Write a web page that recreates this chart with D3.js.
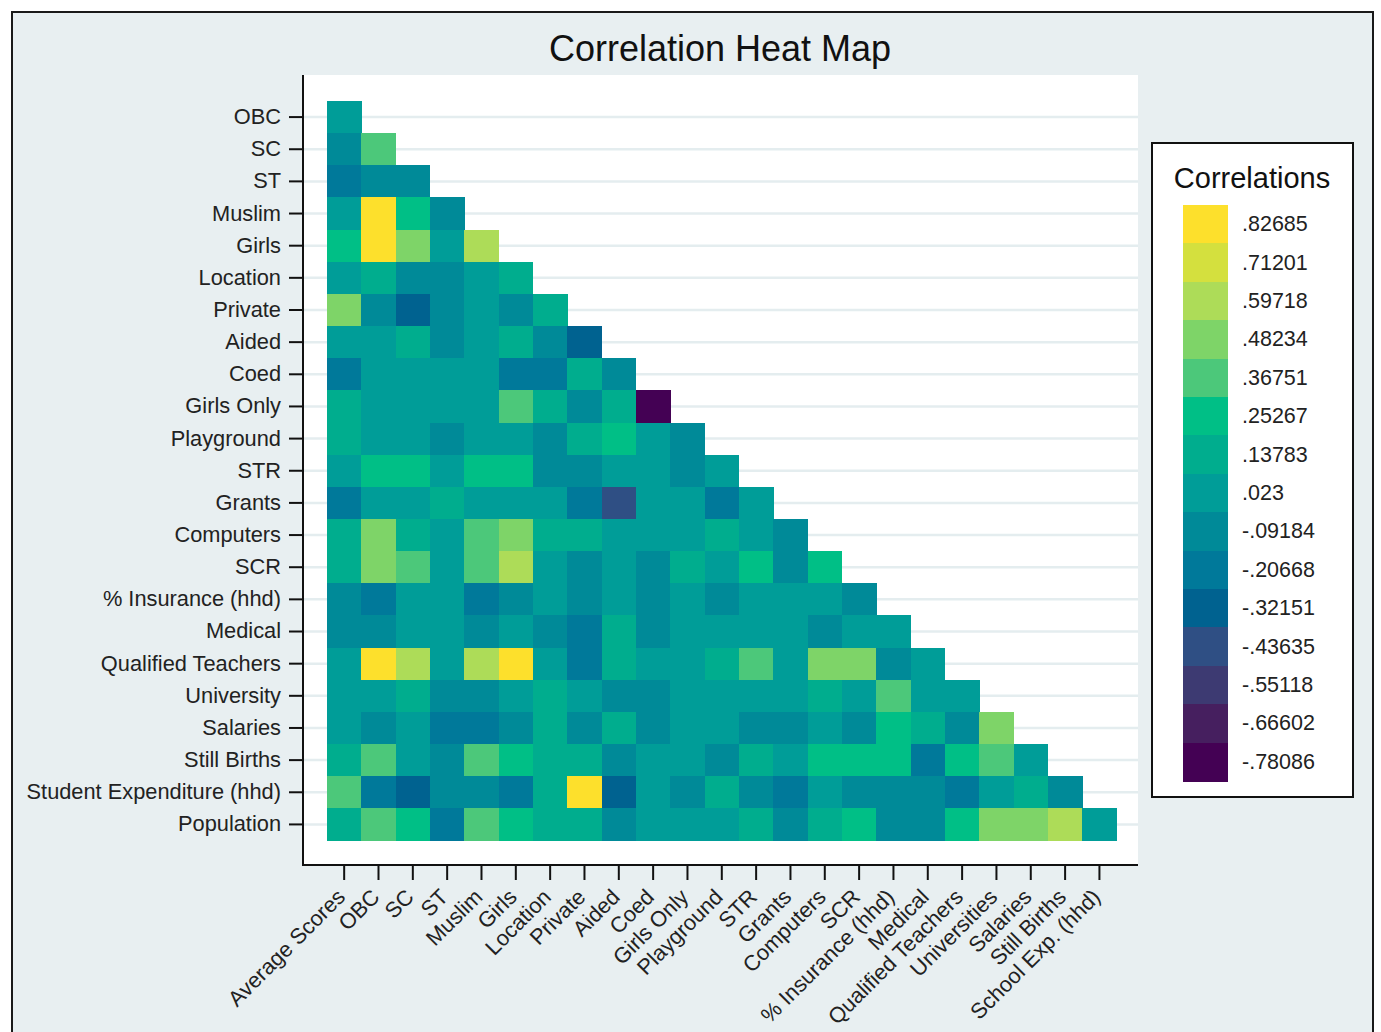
<!DOCTYPE html>
<html>
<head>
<meta charset="utf-8">
<script src="https://cdn.jsdelivr.net/npm/d3@7"></script>
<style>
  body { margin: 0; background: #ffffff; }
  text { font-family: "Liberation Sans", Arial, Helvetica, sans-serif; }
</style>
</head>
<body>
<svg id="chart" width="1381" height="1032"></svg>
<script>
// Column (x) variables
const colVars = ["Average Scores", "OBC", "SC", "ST", "Muslim", "Girls", "Location", "Private",
  "Aided", "Coed", "Girls Only", "Playground", "STR", "Grants", "Computers", "SCR",
  "% Insurance (hhd)", "Medical", "Qualified Teachers", "Universities", "Salaries",
  "Still Births", "School Exp. (hhd)"];

// Row (y) variables
const rowVars = ["OBC", "SC", "ST", "Muslim", "Girls", "Location", "Private", "Aided", "Coed",
  "Girls Only", "Playground", "STR", "Grants", "Computers", "SCR", "% Insurance (hhd)",
  "Medical", "Qualified Teachers", "University", "Salaries", "Still Births",
  "Student Expenditure (hhd)", "Population"];

// Lower-triangle correlations, one array per row (row i has i+1 entries)
const corrOBC        = [0.02];
const corrSC         = [-0.09, 0.37];
const corrST         = [-0.21, -0.09, -0.09];
const corrMuslim     = [0.02, 0.83, 0.25, -0.09];
const corrGirls      = [0.25, 0.83, 0.48, 0.02, 0.60];
const corrLocation   = [0.02, 0.14, -0.09, -0.09, 0.02, 0.14];
const corrPrivate    = [0.48, -0.09, -0.32, -0.09, 0.02, -0.09, 0.14];
const corrAided      = [0.02, 0.02, 0.14, -0.09, 0.02, 0.14, -0.09, -0.32];
const corrCoed       = [-0.21, 0.02, 0.02, 0.02, 0.02, -0.21, -0.21, 0.14, -0.09];
const corrGirlsOnly  = [0.14, 0.02, 0.02, 0.02, 0.02, 0.37, 0.14, -0.09, 0.14, -0.78];
const corrPlayground = [0.14, 0.02, 0.02, -0.09, 0.02, 0.02, -0.09, 0.14, 0.25, 0.02, -0.09];
const corrSTR        = [0.02, 0.25, 0.25, 0.02, 0.25, 0.25, -0.09, -0.09, 0.02, 0.02, -0.09, 0.02];
const corrGrants     = [-0.21, 0.02, 0.02, 0.14, 0.02, 0.02, 0.02, -0.21, -0.44, 0.02, 0.02, -0.21, 0.02];
const corrComputers  = [0.14, 0.48, 0.14, 0.02, 0.37, 0.48, 0.14, 0.14, 0.02, 0.02, 0.02, 0.14, 0.02, -0.09];
const corrSCR        = [0.14, 0.48, 0.37, 0.02, 0.37, 0.60, 0.02, -0.09, 0.02, -0.09, 0.14, 0.02, 0.25, -0.09, 0.25];
const corrInsurance  = [-0.09, -0.21, 0.02, 0.02, -0.21, -0.09, 0.02, -0.09, 0.02, -0.09, 0.02, -0.09, 0.02, 0.02, 0.02, -0.09];
const corrMedical    = [-0.09, -0.09, 0.02, 0.02, -0.09, 0.02, -0.09, -0.21, 0.14, -0.09, 0.02, 0.02, 0.02, 0.02, -0.09, 0.02, 0.02];
const corrQualified  = [0.02, 0.83, 0.60, 0.02, 0.60, 0.83, 0.02, -0.21, 0.14, 0.02, 0.02, 0.14, 0.37, 0.02, 0.48, 0.48, -0.09, 0.02];
const corrUniversity = [0.02, 0.02, 0.14, -0.09, -0.09, 0.02, 0.14, 0.02, -0.09, -0.09, 0.02, 0.02, 0.02, 0.02, 0.14, 0.02, 0.37, 0.02, 0.02];
const corrSalaries   = [0.02, -0.09, 0.02, -0.21, -0.21, -0.09, 0.14, -0.09, 0.14, -0.09, 0.02, 0.02, -0.09, -0.09, 0.02, -0.09, 0.25, 0.14, -0.09, 0.48];
const corrStillBirths= [0.14, 0.37, 0.02, -0.09, 0.37, 0.25, 0.14, 0.14, -0.09, 0.02, 0.02, -0.09, 0.14, 0.02, 0.25, 0.25, 0.25, -0.21, 0.25, 0.37, 0.02];
const corrStudentExp = [0.37, -0.21, -0.32, -0.09, -0.09, -0.21, 0.14, 0.83, -0.32, 0.02, -0.09, 0.14, -0.09, -0.21, 0.02, -0.09, -0.09, -0.09, -0.21, 0.02, 0.14, -0.09];
const corrPopulation = [0.14, 0.37, 0.25, -0.21, 0.37, 0.25, 0.14, 0.14, -0.09, 0.02, 0.02, 0.02, 0.14, -0.09, 0.14, 0.25, -0.09, -0.09, 0.25, 0.48, 0.48, 0.60, 0.02];

const corrRows = [corrOBC, corrSC, corrST, corrMuslim, corrGirls, corrLocation, corrPrivate,
  corrAided, corrCoed, corrGirlsOnly, corrPlayground, corrSTR, corrGrants, corrComputers,
  corrSCR, corrInsurance, corrMedical, corrQualified, corrUniversity, corrSalaries,
  corrStillBirths, corrStudentExp, corrPopulation];

// Legend levels (top to bottom)
const legendLabels = [".82685", ".71201", ".59718", ".48234", ".36751", ".25267", ".13783", ".023",
  "-.09184", "-.20668", "-.32151", "-.43635", "-.55118", "-.66602", "-.78086"];
const legendValues = [0.82685, 0.71201, 0.59718, 0.48234, 0.36751, 0.25267, 0.13783, 0.023,
  -0.09184, -0.20668, -0.32151, -0.43635, -0.55118, -0.66602, -0.78086];

// Viridis-style palette, low to high
const palette = ["#440154", "#461f5f", "#3d3a72", "#2f4f84", "#006290", "#00799a", "#008a98",
  "#009d98", "#00ad8e", "#00bf86", "#4cc87a", "#7ed468", "#addc58", "#d4e03e", "#fde02c"];

const svg = d3.select("#chart");

const lo = d3.min(legendValues), hi = d3.max(legendValues);
const step = (hi - lo) / (palette.length - 1);
const color = d3.scaleQuantize().domain([lo - step / 2, hi + step / 2]).range(palette);

// Outer graph region
svg.append("rect")
  .attr("x", 12).attr("y", 12).attr("width", 1361).attr("height", 1040)
  .attr("fill", "#e8eff1").attr("stroke", "#1a1a1a").attr("stroke-width", 2);

// Title
svg.append("text")
  .attr("x", 720).attr("y", 61)
  .attr("text-anchor", "middle")
  .attr("font-size", 36).attr("fill", "#111")
  .text("Correlation Heat Map");

// Plot region
const plot = { left: 303, right: 1138, top: 75, bottom: 865 };
svg.append("rect")
  .attr("x", plot.left).attr("y", plot.top)
  .attr("width", plot.right - plot.left).attr("height", plot.bottom - plot.top)
  .attr("fill", "#ffffff");

const x = d3.scaleBand().domain(colVars).range([327, 1116.6]);
const y = d3.scaleBand().domain(rowVars).range([101, 840.5]);

// Horizontal gridlines at row centres
svg.append("g").selectAll("line")
  .data(rowVars)
  .join("line")
  .attr("x1", plot.left).attr("x2", plot.right)
  .attr("y1", d => y(d) + y.bandwidth() / 2)
  .attr("y2", d => y(d) + y.bandwidth() / 2)
  .attr("stroke", "#e4edef").attr("stroke-width", 2.5);

// Cells
const cells = [];
corrRows.forEach((vals, r) => {
  vals.forEach((v, c) => cells.push({ row: rowVars[r], col: colVars[c], value: v }));
});

svg.append("g")
  .attr("shape-rendering", "crispEdges")
  .selectAll("rect")
  .data(cells)
  .join("rect")
  .attr("x", d => x(d.col))
  .attr("y", d => y(d.row))
  .attr("width", x.bandwidth() + 0.5)
  .attr("height", y.bandwidth() + 0.5)
  .attr("fill", d => color(d.value));

// Y axis
const yAxis = svg.append("g")
  .attr("transform", `translate(${plot.left},0)`)
  .call(d3.axisLeft(y).tickSize(14).tickPadding(8));
yAxis.select(".domain").remove();
yAxis.selectAll(".tick line").attr("stroke", "#111").attr("stroke-width", 2);
yAxis.selectAll(".tick text")
  .attr("font-size", 21.8).attr("fill", "#222")
  .attr("font-family", "'Liberation Sans', Arial, sans-serif");

// X axis
const xAxis = svg.append("g")
  .attr("transform", `translate(0,${plot.bottom})`)
  .call(d3.axisBottom(x).tickSize(15));
xAxis.select(".domain").remove();
xAxis.selectAll(".tick line").attr("stroke", "#111").attr("stroke-width", 2);
xAxis.selectAll(".tick text")
  .attr("x", 0).attr("y", 0).attr("dy", null)
  .attr("text-anchor", "end")
  .attr("dominant-baseline", "central")
  .attr("transform", "translate(-3,28) rotate(-45)")
  .attr("font-size", 21.8).attr("fill", "#222")
  .attr("font-family", "'Liberation Sans', Arial, sans-serif");

// Axis lines
svg.append("line")
  .attr("x1", plot.left).attr("x2", plot.left)
  .attr("y1", plot.top).attr("y2", plot.bottom + 1)
  .attr("stroke", "#111").attr("stroke-width", 2);
svg.append("line")
  .attr("x1", plot.left - 1).attr("x2", plot.right)
  .attr("y1", plot.bottom).attr("y2", plot.bottom)
  .attr("stroke", "#111").attr("stroke-width", 2);

// Legend
const legend = svg.append("g");
legend.append("rect")
  .attr("x", 1152).attr("y", 143).attr("width", 201).attr("height", 654)
  .attr("fill", "#ffffff").attr("stroke", "#111").attr("stroke-width", 2);
legend.append("text")
  .attr("x", 1252).attr("y", 188)
  .attr("text-anchor", "middle")
  .attr("font-size", 29).attr("fill", "#111")
  .text("Correlations");

const ly = d3.scaleBand().domain(legendLabels).range([205, 781]);
legend.append("g")
  .attr("shape-rendering", "crispEdges")
  .selectAll("rect")
  .data(legendLabels)
  .join("rect")
  .attr("x", 1183).attr("width", 45)
  .attr("y", d => ly(d)).attr("height", ly.bandwidth() + 0.5)
  .attr("fill", (d, i) => color(legendValues[i]));
legend.append("g")
  .selectAll("text")
  .data(legendLabels)
  .join("text")
  .attr("x", 1242)
  .attr("y", d => ly(d) + ly.bandwidth() / 2)
  .attr("dominant-baseline", "central")
  .attr("font-size", 21.5).attr("fill", "#222")
  .text(d => d);
</script>
</body>
</html>
